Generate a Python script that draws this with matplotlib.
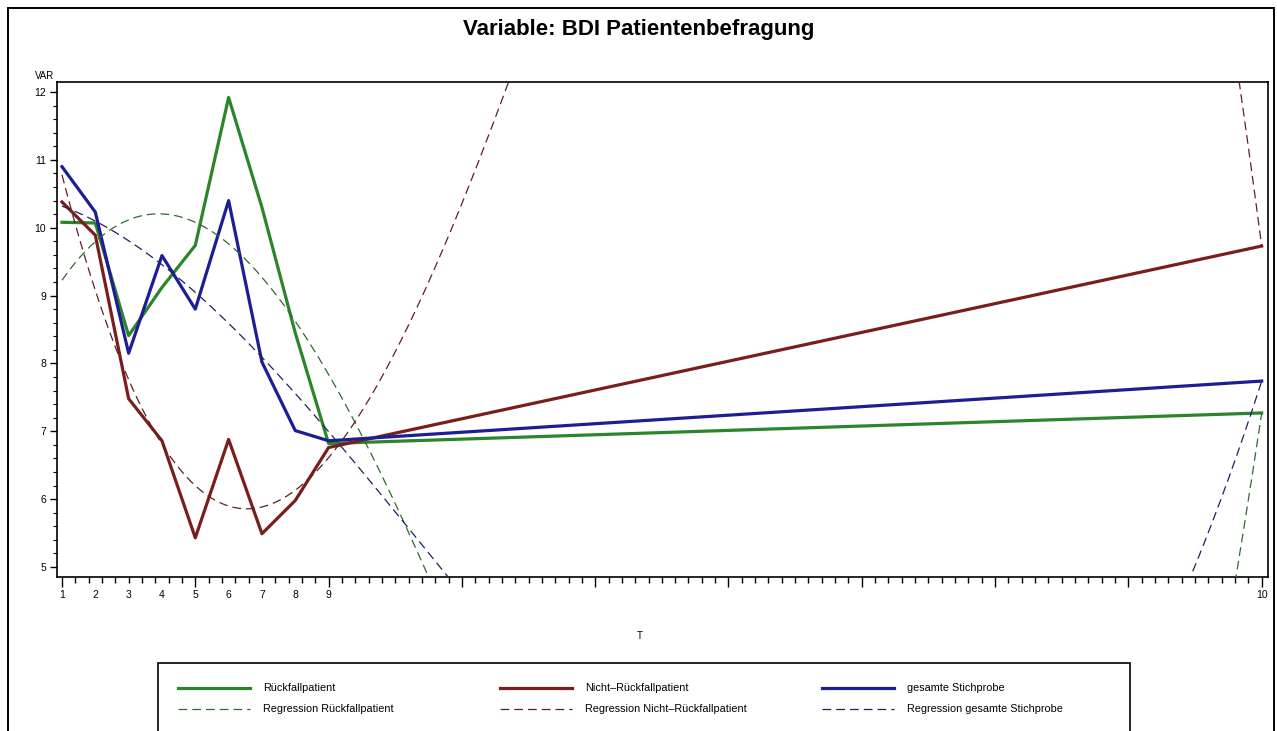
import numpy as np
import matplotlib
matplotlib.use("Agg")
import matplotlib.pyplot as plt
from matplotlib.lines import Line2D
from matplotlib.patches import Rectangle

W, H, DPI = 1277, 731, 100
plt.rcParams["font.family"] = ["Liberation Sans", "DejaVu Sans"]

# measurement occasions (weeks) and the labels printed under them
t_values = [1, 2, 3, 4, 5, 6, 7, 8, 9, 37]
t_labels = ["1", "2", "3", "4", "5", "6", "7", "8", "9", "10"]

# BDI means per group
rueckfall = [10.08, 10.07, 8.41, 9.12, 9.74, 11.92, 10.30, 8.45, 6.82, 7.27]
nicht_rueckfall = [10.38, 9.89, 7.48, 6.86, 5.43, 6.88, 5.49, 5.98, 6.76, 9.73]
gesamt = [10.90, 10.23, 8.15, 9.59, 8.80, 10.40, 8.02, 7.01, 6.86, 7.74]

series = [rueckfall, nicht_rueckfall, gesamt]
names = ["Rückfallpatient", "Nicht–Rückfallpatient", "gesamte Stichprobe"]
reg_names = ["Regression " + n for n in names]
line_colors = ["#2b852b", "#7a1d1d", "#1d1d94"]
reg_colors = ["#2f6a2f", "#5e2020", "#20205e"]
dash = (0, (7, 4))


def fx(px):
    return px / W


def fy(py):
    return 1 - py / H


fig = plt.figure(figsize=(W / DPI, H / DPI), dpi=DPI)
ax = fig.add_axes([fx(57), fy(577), fx(1268) - fx(57), fy(82) - fy(577)])

t = np.array(t_values, dtype=float)
tt = np.linspace(t.min(), t.max(), 1500)
for vals, col in zip(series, line_colors):
    ax.plot(t, vals, color=col, lw=2.3, solid_joinstyle="round", zorder=3)
# cubic regression per group
for vals, col in zip(series, reg_colors):
    coef = np.polyfit(t, vals, 3)
    ax.plot(tt, np.polyval(coef, tt), color=col, lw=0.9, ls=dash, zorder=4)

ax.set_xlim(0.85, 37.19)
ax.set_ylim(4.852, 12.148)

# tick marks on the time axis; labels come from a secondary axis
ax.set_xticks(np.arange(1, 37.01, 4))
ax.set_xticks(np.arange(1, 37.01, 0.4), minor=True)
ax.tick_params(axis="x", which="major", length=7, width=1, labelbottom=False)
ax.tick_params(axis="x", which="minor", length=4, width=1)
sec = ax.secondary_xaxis("bottom")
sec.set_xticks(t_values, t_labels)
sec.tick_params(length=0, pad=9, labelsize=7.5)
sec.spines["bottom"].set_visible(False)

ax.set_yticks(range(5, 13))
ax.set_yticks(np.arange(5, 12.01, 0.2), minor=True)
ax.tick_params(axis="y", which="major", length=5, width=1, labelsize=7.5, pad=3)
ax.tick_params(axis="y", which="minor", length=3, width=0.8)
for s in ax.spines.values():
    s.set_linewidth(1.2)

fig.text(0.5, fy(30), "Variable: BDI Patientenbefragung", ha="center", va="center",
         fontsize=16, fontweight="bold")
fig.text(fx(45), fy(76), "VAR", ha="center", va="center", fontsize=7)
fig.text(fx(640), fy(636), "T", ha="center", va="center", fontsize=7)

# outer frame
fig.add_artist(Rectangle((fx(8), -0.05), fx(1274) - fx(8), fy(8) + 0.05,
                         transform=fig.transFigure, fill=False, lw=1.4, ec="black"))

# legend box
fig.add_artist(Rectangle((fx(158), -0.05), fx(1130) - fx(158), fy(663) + 0.05,
                         transform=fig.transFigure, fill=False, lw=1.2, ec="black"))
col_x = [178, 500, 822]
rows_y = [688, 709]
for i in range(3):
    x0 = col_x[i]
    for r, (label, col, style, lw) in enumerate([
        (names[i], line_colors[i], "-", 2.3),
        (reg_names[i], reg_colors[i], dash, 0.9),
    ]):
        y = rows_y[r]
        fig.add_artist(Line2D([fx(x0), fx(x0 + 72)], [fy(y), fy(y)], color=col, lw=lw,
                              ls=style, transform=fig.transFigure))
        fig.text(fx(x0 + 85), fy(y), label, ha="left", va="center", fontsize=7.8)

fig.savefig("out.png", dpi=DPI)
